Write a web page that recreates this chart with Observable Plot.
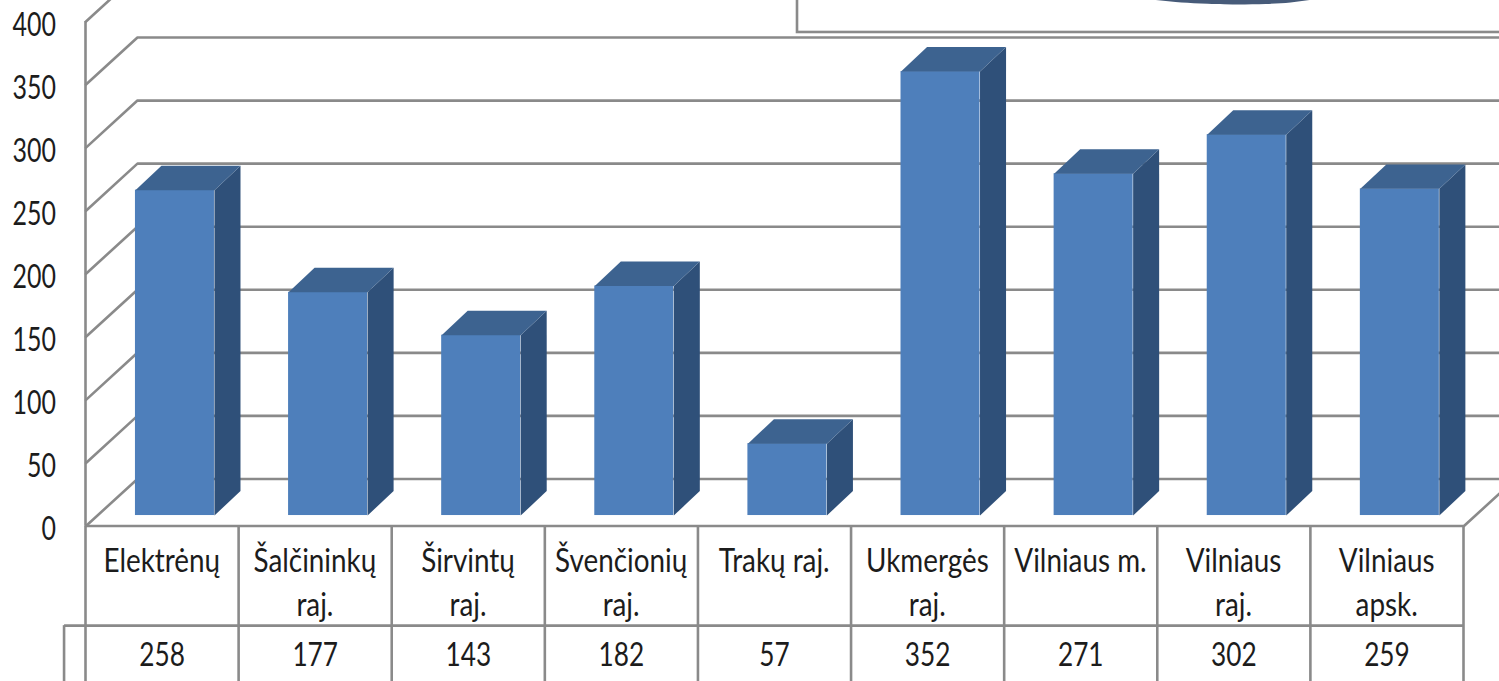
<!DOCTYPE html>
<html>
<head>
<meta charset="utf-8">
<script src="https://cdn.jsdelivr.net/npm/d3@7"></script>
<script src="https://cdn.jsdelivr.net/npm/@observablehq/plot@0.6"></script>
<style>
html,body{margin:0;padding:0;background:#fff;overflow:hidden}
svg{display:block}
</style>
</head>
<body>
<div id="chart"></div>
<script>
const categories = ["Elektrėnų","Šalčininkų\nraj.","Širvintų\nraj.","Švenčionių\nraj.","Trakų raj.","Ukmergės\nraj.","Vilniaus m.","Vilniaus\nraj.","Vilniaus\napsk."];
const values = [258,177,143,182,57,352,271,302,259];
const yTicks = [0,50,100,150,200,250,300,350,400];
const pieEdgeX = [6.953,7.116,7.279,7.488,7.704,7.867,8.017];
const pieEdgeY = [417.5,415.5,414.3,413.5,413.9,415.1,417.5];

const gridColor = "#8a8a8a", textColor = "#1c1c1c";
const front = "#4e7fbb", side = "#2f5079", top_ = "#3d6390";
// 3D projection in scale units
const wallDx = 0.336, wallDy = 37.3, barDx = 0.17, barDy = 19.4, barBase = 8.3, barLeft = 0.323, barW = 0.516;
const n = categories.length;
const rowLabel = -11.5, rowSplit = -79, rowEnd = -125, rowVal = -102.5, tableLeft = -0.14;

const bars = values.map((v,i)=>({i,v,x1:i+barLeft,x2:i+barLeft+barW,y1:barBase,y2:barBase+v}));
const sides = bars.flatMap(b=>[
  {id:b.i,x:b.x2,y:b.y1},{id:b.i,x:b.x2+barDx,y:b.y1+barDy},
  {id:b.i,x:b.x2+barDx,y:b.y2+barDy},{id:b.i,x:b.x2,y:b.y2}]);
const tops = bars.flatMap(b=>[
  {id:b.i,x:b.x1,y:b.y2},{id:b.i,x:b.x2,y:b.y2},
  {id:b.i,x:b.x2+barDx,y:b.y2+barDy},{id:b.i,x:b.x1+barDx,y:b.y2+barDy}]);
const grid = yTicks.flatMap(t=>[
  {t,x:0,y:t},{t,x:wallDx,y:t+wallDy},{t,x:n+wallDx,y:t+wallDy}]);
const edges = d3.range(n+1);
const pie = pieEdgeX.map((x,i)=>({x,y:pieEdgeY[i]}));

const lineOpts = {stroke:gridColor,strokeWidth:2.6};
const chart = Plot.plot({
  width:1499,height:681,
  marginLeft:85.5,marginRight:35.5,marginTop:21,marginBottom:155.5,
  style:{fontFamily:"Lato,sans-serif",background:"#fff",color:textColor},
  x:{type:"linear",domain:[0,n],axis:null},
  y:{domain:[0,400],axis:null},
  marks:[
    Plot.line(grid,{x:"x",y:"y",z:"t",...lineOpts}),
    Plot.line([{x:n,y:0},{x:n+wallDx,y:wallDy}],{x:"x",y:"y",...lineOpts}),
    Plot.ruleX([0],{y1:0,y2:400,dx:-0.5,...lineOpts}),
    Plot.ruleY([0],{x1:0,x2:n,...lineOpts}),
    Plot.ruleY([rowSplit],{x1:tableLeft,x2:n,...lineOpts}),
    Plot.ruleX(edges,{y1:0,y2:rowEnd,dx:-0.5,...lineOpts}),
    Plot.ruleX([tableLeft],{y1:rowSplit,y2:rowEnd,dx:-0.5,...lineOpts}),
    Plot.rect([0],{x1:4.647,x2:9.6,y1:391.3,y2:430,fill:"#fff",...lineOpts}),
    Plot.line(pie,{x:"x",y:"y",fill:"#475b79",stroke:"none",curve:"natural"}),
    Plot.rect(bars,{x1:"x1",x2:"x2",y1:"y1",y2:"y2",fill:front}),
    Plot.line(sides,{x:"x",y:"y",z:"id",fill:side,stroke:"none"}),
    Plot.line(tops,{x:"x",y:"y",z:"id",fill:top_,stroke:"none"}),
    Plot.axisY({ticks:yTicks,tickSize:0,tickPadding:30,fontSize:32,label:null,dy:4,tickFormat:d=>String(d)}),
    Plot.text(categories,{x:(d,i)=>i+0.495,y:()=>rowLabel,text:d=>d,lineAnchor:"top",lineHeight:1.375,fontSize:32,fill:textColor}),
    Plot.text(values,{x:(d,i)=>i+0.497,y:()=>rowVal,text:d=>String(d),fontSize:32,fill:textColor})
  ]
});
// The reference's type is horizontally condensed
chart.querySelectorAll("text").forEach(t=>{
  const axis = t.parentNode.getAttribute("aria-label") !== "text";
  const k = axis ? 0.78 : /^\d+$/.test(t.textContent) ? 0.82 : 0.87;
  t.setAttribute("transform",(t.getAttribute("transform")||"")+` scale(${k},1)`);
});
document.getElementById("chart").append(chart);
</script>
</body>
</html>
